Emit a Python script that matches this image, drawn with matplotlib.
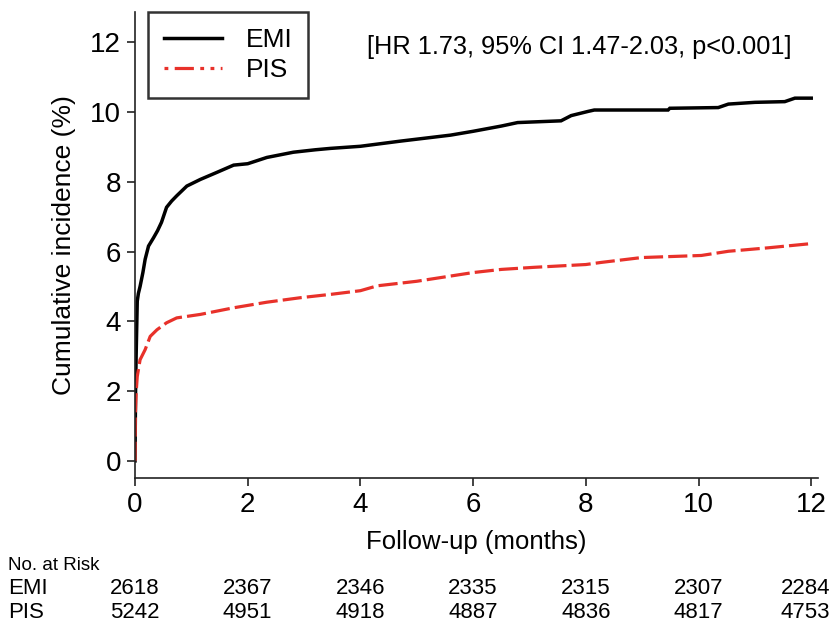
import matplotlib
matplotlib.use("Agg")
import matplotlib.pyplot as plt
from matplotlib.lines import Line2D

plt.rcParams['font.family'] = ['Liberation Sans', 'DejaVu Sans']

# Data
emi_t = [0.0, 0.01, 0.02, 0.04, 0.06, 0.09, 0.14, 0.18, 0.24, 0.33, 0.40, 0.47, 0.56, 0.65, 0.74, 0.92,
         1.16, 1.45, 1.75, 2.0, 2.34, 2.81, 3.2, 3.47, 4.0, 4.72, 5.6, 6.0, 6.5, 6.79, 7.56, 7.74,
         8.04, 8.15, 9.46, 9.49, 10.35, 10.53, 11.0, 11.53, 11.71, 12.0]
emi_y = [0.0, 2.0, 3.0, 4.58, 4.8, 5.0, 5.4, 5.78, 6.16, 6.4, 6.6, 6.84, 7.27, 7.45, 7.6, 7.88,
         8.07, 8.27, 8.48, 8.52, 8.7, 8.85, 8.92, 8.96, 9.02, 9.17, 9.34, 9.45, 9.6, 9.7, 9.75, 9.9,
         10.02, 10.06, 10.06, 10.11, 10.13, 10.23, 10.28, 10.3, 10.4, 10.4]

pis_t = [0.0, 0.005, 0.02, 0.04, 0.09, 0.18, 0.27, 0.39, 0.56, 0.74, 1.16, 1.75, 2.34, 2.94,
         3.5, 4.0, 4.3, 5.0, 6.0, 6.5, 7.08, 8.0, 8.27, 8.99, 10.05, 10.53, 11.24, 12.0]
pis_y = [0.0, 1.27, 1.95, 2.42, 2.9, 3.19, 3.57, 3.76, 3.96, 4.1, 4.2, 4.39, 4.55, 4.68,
         4.78, 4.88, 5.02, 5.15, 5.4, 5.49, 5.55, 5.63, 5.69, 5.83, 5.89, 6.01, 6.11, 6.23]

x_ticks = [0, 2, 4, 6, 8, 10, 12]
y_ticks = [0, 2, 4, 6, 8, 10, 12]
risk_emi = [2618, 2367, 2346, 2335, 2315, 2307, 2284]
risk_pis = [5242, 4951, 4918, 4887, 4836, 4817, 4753]

red = '#e8312a'
pis_dash = (0, (1.2, 2, 6, 2, 1.2, 2, 1.2, 2))

fig = plt.figure(figsize=(8.33, 6.25), dpi=100)
ax = fig.add_axes([135/833, 1-478/625, (818-135)/833, (478-12)/625])

ax.plot(emi_t, emi_y, color='black', lw=2.5, solid_joinstyle='miter')
ax.plot(pis_t, pis_y, color=red, lw=2.3, linestyle=(0, (6, 1.6)))

ax.set_xlim(0, 12.12)
ax.set_ylim(-0.49, 12.87)
ax.spines['top'].set_visible(False)
ax.spines['right'].set_visible(False)
for s in ('left', 'bottom'):
    ax.spines[s].set_linewidth(1.2)
    ax.spines[s].set_color('#222222')
ax.set_xticks(x_ticks)
ax.set_yticks(y_ticks)
ax.tick_params(labelsize=20, length=6, width=1.2, color='#222222', pad=4)
ax.set_xlabel('Follow-up (months)', fontsize=18.5, labelpad=9)
ax.set_ylabel('Cumulative incidence (%)', fontsize=19, labelpad=10)

handles = [Line2D([], [], color='black', lw=2.5),
           Line2D([], [], color=red, lw=2.3, linestyle=pis_dash)]
leg = ax.legend(handles, ['EMI', 'PIS'], loc='upper left', bbox_to_anchor=(13/683, 1.0),
                fontsize=19, frameon=True, fancybox=False, edgecolor='black',
                handlelength=2.2, handletextpad=0.9, borderpad=0.6, labelspacing=0.25,
                borderaxespad=0.0)
leg.get_frame().set_linewidth(1.8)

ax.text(0.961, 0.925, '[HR 1.73, 95% CI 1.47-2.03, p<0.001]', transform=ax.transAxes,
        ha='right', va='center', fontsize=18.3)

# Number at risk table
fig.text(8/833, 1-565/625, 'No. at Risk', fontsize=13.5, ha='left', va='center')
fig.text(8/833, 1-588/625, 'EMI', fontsize=16, ha='left', va='center')
fig.text(8/833, 1-612/625, 'PIS', fontsize=16, ha='left', va='center')
for t, e, p in zip(x_ticks, risk_emi, risk_pis):
    xf = ax.transData.transform((t, 0))[0] / fig.bbox.width
    if t == 12:
        xf -= 6/833
    fig.text(xf, 1-588/625, str(e), fontsize=16, ha='center', va='center')
    fig.text(xf, 1-612/625, str(p), fontsize=16, ha='center', va='center')

fig.savefig('out.png', dpi=100)
